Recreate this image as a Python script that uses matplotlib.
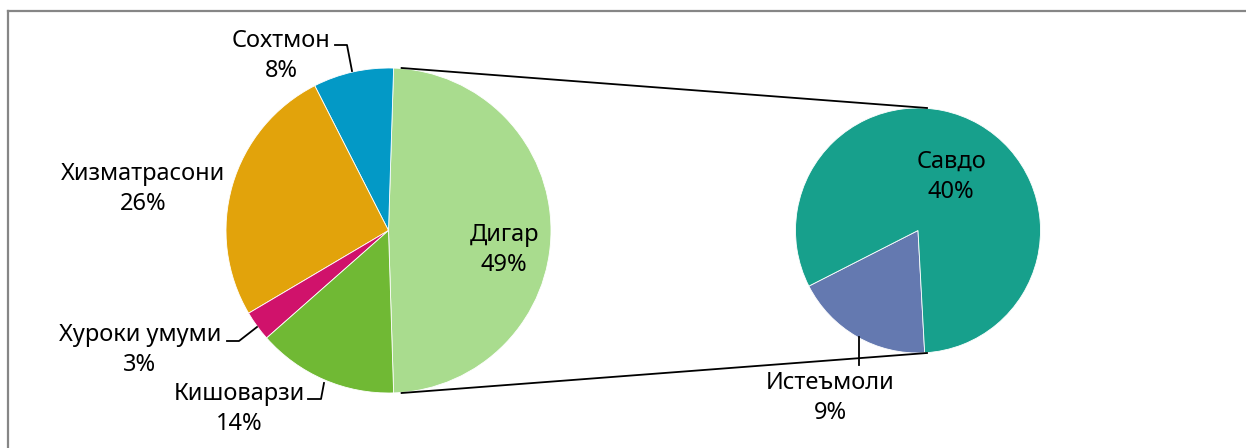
import matplotlib.pyplot as plt
import numpy as np

plt.rcParams['font.family'] = ['Noto Sans', 'DejaVu Sans']

# main pie (Дигар is split into the second pie)
main_labels = ["Дигар", "Сохтмон", "Хизматрасони", "Хуроки умуми", "Кишоварзи"]
main_values = [49, 8, 26, 3, 14]
main_colors = ["#a9dc8e", "#0399c6", "#e2a30b", "#d0126b", "#70b934"]

sub_labels = ["Истеъмоли", "Савдо"]
sub_values = [9, 40]
sub_colors = ["#6479b0", "#17a08c"]

W, H = 1246, 448
fig = plt.figure(figsize=(W / 100, H / 100), dpi=100)
ax = fig.add_axes([0, 0, 1, 1])
ax.set_xlim(0, W)
ax.set_ylim(0, H)
ax.axis("off")

c1, r1 = (388.5, H - 230.5), 162.5
c2, r2 = (918.0, H - 230.5), 122.5

# Дигар centered on the right side
start1 = -main_values[0] / sum(main_values) * 360 / 2
ax.pie(main_values, colors=main_colors, startangle=start1, counterclock=True,
       center=c1, radius=r1, frame=True,
       wedgeprops=dict(linewidth=0.6, edgecolor="white"))
ax.pie(sub_values, colors=sub_colors, startangle=207, counterclock=True,
       center=c2, radius=r2, frame=True,
       wedgeprops=dict(linewidth=0.6, edgecolor="white"))
ax.set_xlim(0, W)
ax.set_ylim(0, H)
ax.set_aspect("equal")
ax.axis("off")

# connector lines
a = np.deg2rad(-start1)
ax.plot([c1[0] + r1 * np.cos(a) + 8, c2[0] + 9], [c1[1] + r1, c2[1] + r2], color="black", lw=1.3)
ax.plot([c1[0] + r1 * np.cos(a) + 8, c2[0] + 9], [c1[1] - r1, c2[1] - r2], color="black", lw=1.3)

fs = 17
ls = 1.33

def lab(x, y, s):
    ax.text(x, H - y, s, ha="center", va="center", fontsize=fs, linespacing=ls)

pct = [f"{v}%" for v in main_values]
lab(504, 250, f"{main_labels[0]}\n{pct[0]}")
lab(281, 56, f"{main_labels[1]}\n{pct[1]}")
lab(143, 189, f"{main_labels[2]}\n{pct[2]}")
lab(140, 350, f"{main_labels[3]}\n{pct[3]}")
lab(239, 409, f"{main_labels[4]}\n{pct[4]}")
lab(951, 177, f"{sub_labels[1]}\n{sub_values[1]}%")
lab(830, 398, f"{sub_labels[0]}\n{sub_values[0]}%")

# leader lines
def leader(xs, ys):
    ax.plot(xs, [H - y for y in ys], color="black", lw=1.3)

leader([335, 347, 352], [45, 45, 71])
leader([227, 239, 257], [341, 341, 327])
leader([308, 321, 324], [399, 399, 383])
leader([859, 859], [337, 365])

# chart border
ax.plot([8, W], [H - 11, H - 11], color="#868686", lw=1.6)
ax.plot([8, 8], [H - 11, 0], color="#868686", lw=1.6)

fig.savefig("out.png", dpi=100)
